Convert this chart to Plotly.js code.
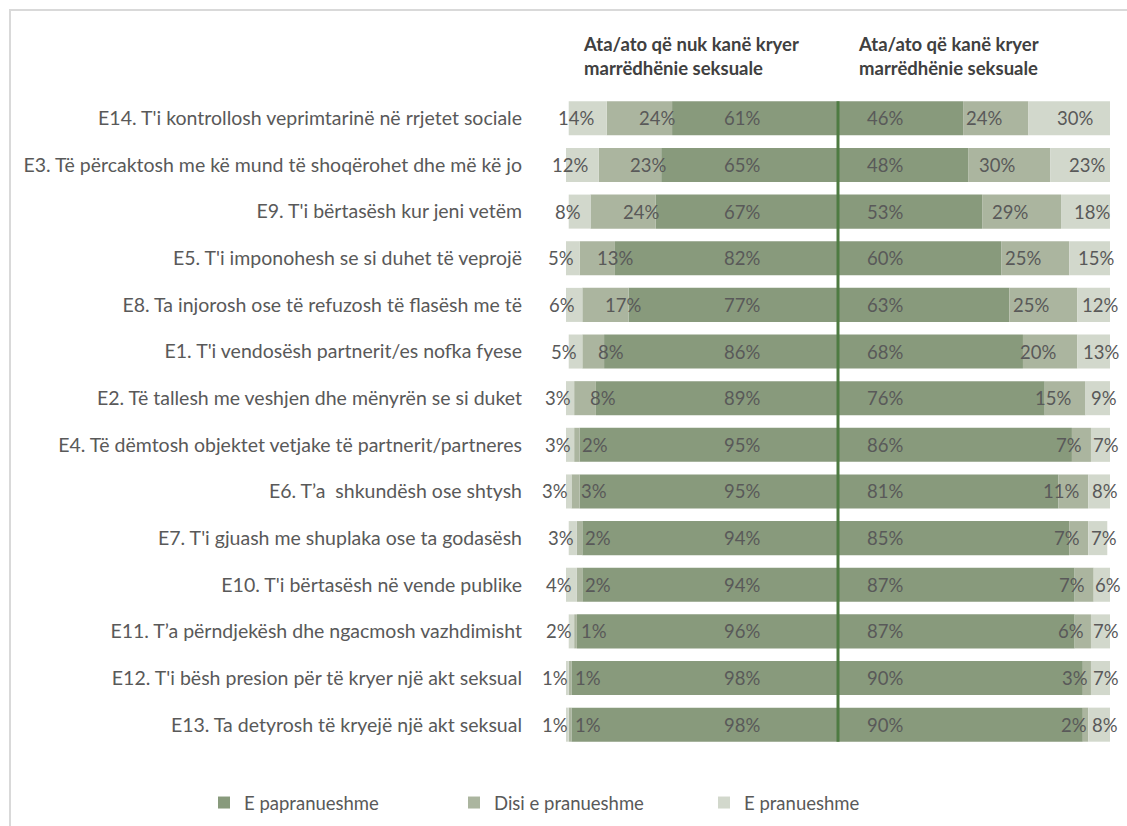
<!DOCTYPE html>
<html><head><meta charset="utf-8">
<script src="https://cdn.plot.ly/plotly-3.0.1.min.js"></script>
<style>html,body{margin:0;padding:0;background:#fff}#chart{width:1127px;height:826px}</style>
</head><body><div id="chart"></div>
<script>
const categories = [
  "E14. T'i kontrollosh veprimtarinë në rrjetet sociale",
  "E3. Të përcaktosh me kë mund të shoqërohet dhe më kë jo",
  "E9. T'i bërtasësh kur jeni vetëm",
  "E5. T'i imponohesh se si duhet të veprojë",
  "E8. Ta injorosh ose të refuzosh të flasësh me të",
  "E1. T'i vendosësh partnerit/es nofka fyese",
  "E2. Të tallesh me veshjen dhe mënyrën se si duket",
  "E4. Të dëmtosh objektet vetjake të partnerit/partneres",
  "E6. T’a  shkundësh ose shtysh",
  "E7. T'i gjuash me shuplaka ose ta godasësh",
  "E10. T'i bërtasësh në vende publike",
  "E11. T’a përndjekësh dhe ngacmosh vazhdimisht",
  "E12. T'i bësh presion për të kryer një akt seksual",
  "E13. Ta detyrosh të kryejë një akt seksual"
];
const seriesNames = ["E papranueshme", "Disi e pranueshme", "E pranueshme"];
const groupTitles = ["Ata/ato që nuk kanë kryer<br>marrëdhënie seksuale", "Ata/ato që kanë kryer<br>marrëdhënie seksuale"];
// Group 1: nuk kanë kryer
const noSexUnacceptable = [61,65,67,82,77,86,89,95,95,94,94,96,98,98];
const noSexSomewhat     = [24,23,24,13,17,8,8,2,3,2,2,1,1,1];
const noSexAcceptable   = [14,12,8,5,6,5,3,3,3,3,4,2,1,1];
// Group 2: kanë kryer
const sexUnacceptable = [46,48,53,60,63,68,76,86,81,85,87,87,90,90];
const sexSomewhat     = [24,30,29,25,25,20,15,7,11,7,7,6,3,2];
const sexAcceptable   = [30,23,18,15,12,13,9,7,8,7,6,7,7,8];

const colors = ["#889a7c", "#abb59f", "#d2d8cc"];
const W = 1127, H = 826, ml = 566, mr = 17, mt = 95, mb = 78;
const pw = W - ml - mr, ph = H - mt - mb;
const pxX = p => (p - ml) / pw;
const pxY = p => (H - mb - p) / ph;
const FONT = "Lato, 'Open Sans', sans-serif";
const TXT = "#595959";
const bargap = 0.27;

const leftSets = [noSexUnacceptable, noSexSomewhat, noSexAcceptable];
const rightSets = [sexUnacceptable, sexSomewhat, sexAcceptable];
const traces = [];
leftSets.forEach((vals, i) => traces.push({
  type: "bar", orientation: "h", y: categories, x: vals.map(v => -v),
  name: seriesNames[i], showlegend: true,
  marker: {color: colors[i]}, hoverinfo: "skip"
}));
rightSets.forEach((vals, i) => traces.push({
  type: "bar", orientation: "h", y: categories, x: vals,
  name: seriesNames[i], showlegend: false,
  marker: {color: colors[i]}, hoverinfo: "skip"
}));

const annotations = [];
const lblFont = {family: FONT, size: 18.5, color: TXT};
categories.forEach((c, k) => {
  const d = noSexUnacceptable[k], m = noSexSomewhat[k], a = noSexAcceptable[k];
  annotations.push({x: 0, y: c, xref: "x", yref: "y", text: d + "%", showarrow: false, font: lblFont, xanchor: "center", xshift: -96});
  annotations.push({x: -(d + m / 2), y: c, xref: "x", yref: "y", text: m + "%", showarrow: false, font: lblFont, xanchor: "center", xshift: 18});
  annotations.push({x: -(d + m + a / 2), y: c, xref: "x", yref: "y", text: a + "%", showarrow: false, font: lblFont, xanchor: "center", xshift: -12});
  const D = sexUnacceptable[k], M = sexSomewhat[k], A = sexAcceptable[k];
  annotations.push({x: 0, y: c, xref: "x", yref: "y", text: D + "%", showarrow: false, font: lblFont, xanchor: "left", xshift: 27});
  annotations.push({x: D + M / 2, y: c, xref: "x", yref: "y", text: M + "%", showarrow: false, font: lblFont, xanchor: "center", xshift: -12});
  annotations.push({x: D + M + A / 2, y: c, xref: "x", yref: "y", text: A + "%", showarrow: false, font: lblFont, xanchor: "center", xshift: 6});
});
const hdrFont = {family: FONT, size: 18.5, color: "#404040", weight: "bold"};
annotations.push({xref: "paper", yref: "paper", x: pxX(581), y: pxY(31), xanchor: "left", yanchor: "top", align: "left", text: "<b>" + groupTitles[0] + "</b>", showarrow: false, font: hdrFont});
annotations.push({xref: "paper", yref: "paper", x: pxX(856), y: pxY(31), xanchor: "left", yanchor: "top", align: "left", text: "<b>" + groupTitles[1] + "</b>", showarrow: false, font: hdrFont});

const shapes = [
  {type: "line", xref: "x", yref: "y", x0: 0, x1: 0, y0: -0.5 + bargap / 2, y1: categories.length - 0.5 - bargap / 2, line: {color: "#4e7b42", width: 3}, layer: "above"},
  {type: "rect", xref: "paper", yref: "paper", x0: pxX(10), x1: pxX(1400), y0: pxY(10), y1: pxY(1200), line: {color: "#d9d9d9", width: 2}, fillcolor: "rgba(0,0,0,0)", layer: "below"}
];

const layout = {
  width: W, height: H,
  margin: {l: ml, r: mr, t: mt, b: mb, pad: 0, autoexpand: false},
  paper_bgcolor: "#fff", plot_bgcolor: "#fff",
  barmode: "relative", bargap: bargap,
  font: {family: FONT, color: TXT},
  xaxis: {range: [-100, 100], showgrid: false, zeroline: false, showticklabels: false, ticks: "", fixedrange: true},
  yaxis: {type: "category", categoryorder: "array", categoryarray: categories, autorange: "reversed",
          showgrid: false, zeroline: false, ticks: "", ticklabelstandoff: 43,
          tickfont: {family: FONT, size: 19.5, color: TXT}, fixedrange: true},
  showlegend: true,
  legend: {orientation: "h", x: pxX(204), y: pxY(803), xanchor: "left", yanchor: "middle",
           font: {family: FONT, size: 18.5, color: TXT}, entrywidth: 205, entrywidthmode: "pixels",
           tracegroupgap: 0, traceorder: "normal", bgcolor: "rgba(0,0,0,0)", borderwidth: 0},
  annotations: annotations, shapes: shapes
};
Plotly.newPlot("chart", traces, layout, {staticPlot: true, displayModeBar: false});
</script>
</body></html>
